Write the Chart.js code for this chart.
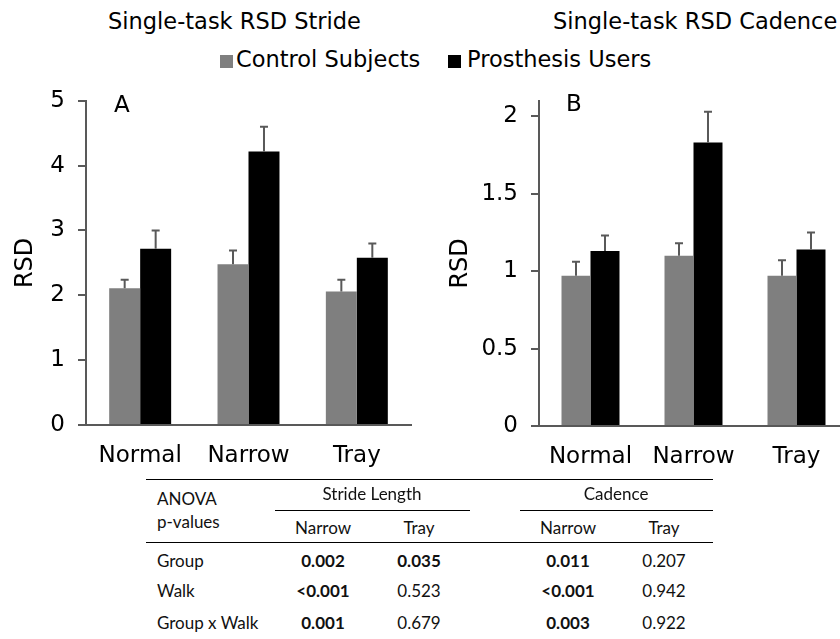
<!DOCTYPE html>
<html>
<head>
<meta charset="utf-8">
<script src="https://cdn.jsdelivr.net/npm/chart.js@4.4.0/dist/chart.umd.min.js"></script>
<style>
  html, body { margin: 0; padding: 0; background: #fff; }
  body { width: 840px; height: 639px; overflow: hidden; position: relative; font-family: "DejaVu Sans", sans-serif; color: #000; }
  .abs { position: absolute; white-space: nowrap; }
  .big { font-size: 22.5px; line-height: 22px; }
  .panel { font-size: 23px; line-height: 23px; }
  .sq { position: absolute; width: 13px; height: 13px; }
  canvas { position: absolute; }
  .tbl { position: absolute; font-family: Lato, sans-serif; font-size: 17px; line-height: 17px; white-space: nowrap; color: #111; }
  .c { transform: translateX(-50%); }
  .rule { position: absolute; height: 0; border-top: 1.5px solid #000; }
  .rule.thin { border-top-width: 1px; }
</style>
</head>
<body>
<div class="abs big" style="left:108px; top:10px;">Single-task RSD Stride</div>
<div class="abs big" style="left:553px; top:10px;">Single-task RSD Cadence</div>

<div class="sq" style="left:220px; top:55px; background:#7f7f7f;"></div>
<div class="abs big" id="leg0" style="left:236px; top:48px;"></div>
<div class="sq" style="left:448px; top:55px; background:#000;"></div>
<div class="abs big" id="leg1" style="left:467px; top:48px;"></div>

<canvas id="chartA" width="420" height="411" style="left:0; top:74px;"></canvas>
<canvas id="chartB" width="440" height="411" style="left:420px; top:74px;"></canvas>

<div class="abs panel" style="left:114px; top:93px;">A</div>
<div class="abs panel" style="left:566px; top:92px;">B</div>

<div id="table"></div>

<script>
// categories and series
const walks = ["Normal", "Narrow", "Tray"];
const groups = ["Control Subjects", "Prosthesis Users"];
const groupColors = ["#7f7f7f", "#000000"];

// panel A: stride RSD (mean and error)
const strideTicks = [0, 1, 2, 3, 4, 5];
const strideControl = [2.11, 2.48, 2.06];
const strideControlErr = [0.13, 0.21, 0.18];
const strideProsthesis = [2.72, 4.22, 2.58];
const strideProsthesisErr = [0.28, 0.38, 0.22];

// panel B: cadence RSD (mean and error)
const cadenceTicks = [0, 0.5, 1, 1.5, 2];
const cadenceControl = [0.97, 1.10, 0.97];
const cadenceControlErr = [0.09, 0.08, 0.10];
const cadenceProsthesis = [1.13, 1.83, 1.14];
const cadenceProsthesisErr = [0.10, 0.20, 0.11];

// ANOVA table
const anovaRows = ["Group", "Walk", "Group x Walk"];
const strideNarrowP = ["0.002", "<0.001", "0.001"];
const strideTrayP = ["0.035", "0.523", "0.679"];
const cadenceNarrowP = ["0.011", "<0.001", "0.003"];
const cadenceTrayP = ["0.207", "0.942", "0.922"];

document.getElementById("leg0").textContent = groups[0];
document.getElementById("leg1").textContent = groups[1];

const axisColor = "#595959";
const tickFont = { family: "DejaVu Sans", size: 23 };

// ERROR BARS ON TOP OF EACH BAR
const errorBars = {
  id: "errorBars",
  afterDatasetsDraw(chart) {
    const ctx = chart.ctx;
    const yScale = chart.scales.y;
    chart.data.datasets.forEach((ds, i) => {
      const meta = chart.getDatasetMeta(i);
      meta.data.forEach((bar, j) => {
        const top = yScale.getPixelForValue(ds.data[j] + ds.errors[j]);
        ctx.save();
        ctx.strokeStyle = axisColor;
        ctx.lineWidth = 2;
        ctx.beginPath();
        ctx.moveTo(bar.x, bar.y);
        ctx.lineTo(bar.x, top);
        ctx.moveTo(bar.x - 4, top);
        ctx.lineTo(bar.x + 4, top);
        ctx.stroke();
        ctx.restore();
      });
    });
  },
};

function buildChart(id, control, controlErr, prosthesis, prosthesisErr, yOpts) {
  const ctx = document.getElementById(id).getContext("2d");
  return new Chart(ctx, {
    type: "bar",
    data: {
      labels: walks,
      datasets: [
        { label: groups[0], data: control, errors: controlErr, backgroundColor: groupColors[0], borderWidth: 0 },
        { label: groups[1], data: prosthesis, errors: prosthesisErr, backgroundColor: groupColors[1], borderWidth: 0 },
      ],
    },
    options: {
      responsive: false,
      animation: false,
      layout: { padding: yOpts.padding },
      datasets: { bar: { barPercentage: 1, categoryPercentage: yOpts.catPct } },
      plugins: { legend: { display: false }, tooltip: { enabled: false } },
      scales: {
        x: {
          grid: { display: false, drawTicks: false },
          border: { display: true, color: axisColor, width: 2 },
          ticks: { color: "#000", font: tickFont, padding: 17 },
          afterFit: (s) => { s.height = yOpts.xHeight; },
        },
        y: {
          min: 0,
          max: yOpts.max,
          ticks: { color: "#000", font: tickFont, padding: 13, callback: (v) => String(v) },
          grid: { drawOnChartArea: false, drawTicks: true, tickLength: 8, color: axisColor, lineWidth: 2 },
          border: { display: true, color: axisColor, width: 2 },
          title: { display: true, text: "RSD", color: "#000", font: { family: "DejaVu Sans", size: 24 }, padding: { top: yOpts.titlePad } },
          afterBuildTicks: (s) => { s.ticks = yOpts.ticks.map((v) => ({ value: v })); },
          afterFit: (s) => { s.width = yOpts.yWidth; },
        },
      },
    },
    plugins: [errorBars],
  });
}

buildChart("chartA", strideControl, strideControlErr, strideProsthesis, strideProsthesisErr, {
  max: 5, ticks: strideTicks, catPct: 0.572, yWidth: 86, xHeight: 60, titlePad: 11,
  padding: { top: 3, right: 9, left: 0, bottom: 0 },
});
buildChart("chartB", cadenceControl, cadenceControlErr, cadenceProsthesis, cadenceProsthesisErr, {
  max: 2.1, ticks: cadenceTicks, catPct: 0.563, yWidth: 119, xHeight: 59, titlePad: 26,
  padding: { top: 3, right: 12, left: 0, bottom: 0 },
});

// TABLE OF ANOVA P-VALUES
function addText(text, x, y, center, bold) {
  const d = document.createElement("div");
  d.className = "tbl" + (center ? " c" : "");
  d.style.left = x + "px";
  d.style.top = (y - 9) + "px";
  if (bold) d.style.fontWeight = "bold";
  d.textContent = text;
  document.getElementById("table").appendChild(d);
}
function addRule(x1, x2, y, thin) {
  const d = document.createElement("div");
  d.className = "rule" + (thin ? " thin" : "");
  d.style.left = x1 + "px";
  d.style.width = (x2 - x1) + "px";
  d.style.top = y + "px";
  document.getElementById("table").appendChild(d);
}
const isSig = (p) => p.startsWith("<") || parseFloat(p) < 0.05;

addRule(146, 713, 479);
addText("ANOVA", 157, 499);
addText("p-values", 157, 522);
addText("Stride Length", 372, 494, true);
addText("Cadence", 616, 494, true);
addRule(275, 470, 510, true);
addRule(520, 713, 510, true);
const colX = [323, 419, 568, 664];
["Narrow", "Tray", "Narrow", "Tray"].forEach((h, i) => addText(h, colX[i], 528, true));
addRule(146, 713, 542);
const rowY = [561, 591, 623];
const cols = [strideNarrowP, strideTrayP, cadenceNarrowP, cadenceTrayP];
anovaRows.forEach((r, i) => {
  addText(r, 157, rowY[i]);
  cols.forEach((c, j) => addText(c[i], colX[j], rowY[i], true, isSig(c[i])));
});
</script>
</body>
</html>
